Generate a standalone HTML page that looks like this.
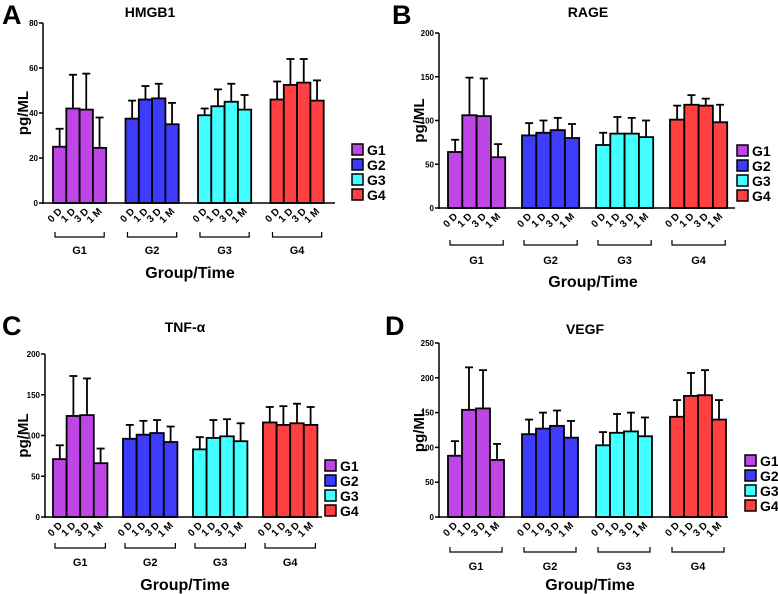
<!DOCTYPE html>
<html><head><meta charset="utf-8"><style>
html,body{margin:0;padding:0;background:#fff;}
svg{display:block;font-family:"Liberation Sans",sans-serif;font-weight:bold;}
</style></head><body>
<svg id="fig" width="778" height="594" viewBox="0 0 778 594" xmlns="http://www.w3.org/2000/svg"></svg>
<script>
const groups = ["G1","G2","G3","G4"];
const times = ["0 D","1 D","3 D","1 M"];
const colors = ["#bf45e6","#3c3cfa","#44ffff","#ff4040"];
const hmgb1Means = [25,42,41.5,24.5, 37.5,46,46.5,35, 39,43,45,41.5, 46,52.5,53.5,45.5];
const hmgb1Tops  = [33,57,57.5,38, 45.5,52,53,44.5, 42,50.5,53,48, 54,64,64,54.5];
const hmgb1Ticks = [0,20,40,60,80];
const rageMeans = [64,106,105,58, 83,86,89,80, 72,85,85,81, 101,118,117,98];
const rageTops  = [78,149,148,73, 97,100,103,96, 86,104,103,100, 117,129,125,118];
const rageTicks = [0,50,100,150,200];
const tnfMeans = [71,124,125,66, 96,101,103,92, 83,97,99,93, 116,113,115,113];
const tnfTops  = [88,173,170,84, 113,118,119,111, 98,119,120,115, 135,136,139,135];
const tnfTicks = [0,50,100,150,200];
const vegfMeans = [88,154,156,82, 119,127,131,114, 103,121,123,116, 144,174,175,140];
const vegfTops  = [109,215,211,105, 140,150,153,138, 122,148,150,143, 168,207,211,168];
const vegfTicks = [0,50,100,150,200,250];

const NS="http://www.w3.org/2000/svg";
const svg=document.getElementById('fig');
function mk(tag,attrs,parent,text){const e=document.createElementNS(NS,tag);for(const k in attrs)e.setAttribute(k,attrs[k]);if(text!==undefined)e.textContent=text;(parent||svg).appendChild(e);return e;}

const panels=[
 {id:"a",letter:"A",lx:2,ly:24,title:"HMGB1",tx:150,ty:17,ax:43,top:23,zero:203,xend:335,g0:53,gs:72.5,bw:13.3,means:hmgb1Means,tops:hmgb1Tops,ticks:hmgb1Ticks,legX:352,legY:144,brY:237,glY:254,xtY:278,xtX:190,ylabX:22},
 {id:"b",letter:"B",lx:392,ly:24,title:"RAGE",tx:588,ty:17,ax:439,top:33,zero:208,xend:735,g0:448,gs:74,bw:14.3,means:rageMeans,tops:rageTops,ticks:rageTicks,legX:737,legY:145,brY:245,glY:264,xtY:287,xtX:593,ylabX:418},
 {id:"c",letter:"C",lx:2,ly:335,title:"TNF-\u03b1",tx:185,ty:332,ax:45,top:354,zero:517,xend:322,g0:53,gs:70,bw:13.6,means:tnfMeans,tops:tnfTops,ticks:tnfTicks,legX:325,legY:460,brY:548,glY:566,xtY:590,xtX:185,ylabX:22},
 {id:"d",letter:"D",lx:385,ly:335,title:"VEGF",tx:585,ty:334,ax:439,top:343,zero:517,xend:728,g0:448,gs:74,bw:14,means:vegfMeans,tops:vegfTops,ticks:vegfTicks,legX:745,legY:455,brY:552,glY:570,xtY:590,xtX:590,ylabX:418}
];

panels.forEach(p=>{
 const g=mk('g',{});
 
 
 const maxV=p.ticks[p.ticks.length-1];
 const y=v=>p.zero-(v/maxV)*(p.zero-p.top);
 const xb=(gi,ti)=>p.g0+gi*p.gs+ti*p.bw;
 const L=mk('text',{x:p.lx,y:p.ly,'font-size':27,fill:'#000'},g,p.letter);
 
 const T=mk('text',{x:p.tx,y:p.ty,'font-size':14,'text-anchor':'middle'},g,p.title);
 
 const ya=mk('g',{},g);
 mk('line',{x1:p.ax,y1:p.top,x2:p.ax,y2:p.zero+1,stroke:'#000','stroke-width':1.5},ya);
 p.ticks.forEach(t=>{
  mk('line',{x1:p.ax-4,y1:y(t),x2:p.ax,y2:y(t),stroke:'#000','stroke-width':1.5},ya);
  const tl=mk('text',{x:p.ax-5,y:y(t)+3,'font-size':8,'text-anchor':'end'},ya,t);
  
 });
 const yl=mk('text',{x:p.ylabX+6,y:(p.top+p.zero)/2,'font-size':15,'text-anchor':'middle',transform:`rotate(-90 ${p.ylabX+6} ${(p.top+p.zero)/2})`},g,'pg/ML');
 
 groups.forEach((gn,gi)=>{
  times.forEach((tn,ti)=>{
   const i=gi*4+ti;
   const x0=xb(gi,ti), cx=x0+p.bw/2;
   const eb=mk('line',{x1:cx,y1:y(p.means[i]),x2:cx,y2:y(p.tops[i]),stroke:'#000','stroke-width':1.8},g);
   
   mk('line',{x1:cx-4,y1:y(p.tops[i]),x2:cx+4,y2:y(p.tops[i]),stroke:'#000','stroke-width':1.8},g);
   const r=mk('rect',{x:x0,y:y(p.means[i]),width:p.bw,height:p.zero-y(p.means[i]),fill:colors[gi],stroke:'#000','stroke-width':1.8},g);
   
   
   const tl=mk('text',{x:cx+3,y:p.zero+9,'font-size':10,'text-anchor':'end',transform:`rotate(-45 ${cx+3} ${p.zero+9})`},g,tn);
   
  });
  const bx0=xb(gi,0)+2, bx1=xb(gi,3)+p.bw-2;
  const br=mk('path',{d:`M${bx0},${p.brY-5}V${p.brY}H${bx1}V${p.brY-5}`,fill:'none',stroke:'#000','stroke-width':1.2},g);
  
  const gl=mk('text',{x:(bx0+bx1)/2,y:p.glY,'font-size':11,'text-anchor':'middle'},g,gn);
  
  const le=mk('g',{},g);
  mk('rect',{x:p.legX,y:p.legY+gi*15,width:11,height:11,fill:colors[gi],stroke:'#000','stroke-width':1.5},le);
  mk('text',{x:p.legX+15,y:p.legY+gi*15+11,'font-size':14},le,gn);
 });
 const xa=mk('line',{x1:p.ax,y1:p.zero,x2:p.xend,y2:p.zero,stroke:'#000','stroke-width':1.5},g);
 
 const xt=mk('text',{x:p.xtX,y:p.xtY,'font-size':16,'text-anchor':'middle'},g,'Group/Time');
 
});
</script>
</body></html>
